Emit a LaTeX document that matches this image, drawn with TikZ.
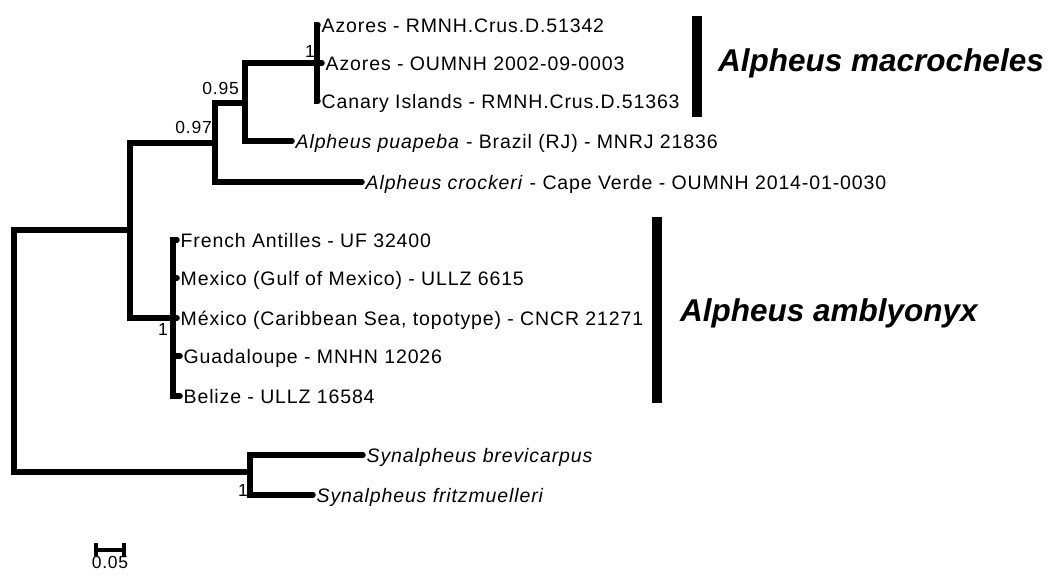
\documentclass[tikz,border=0pt]{standalone}
\usepackage{fontspec}
\setmainfont{Liberation Sans}[LetterSpace=4.5]
\newfontfamily\cladefont{Liberation Sans}
\usetikzlibrary{positioning}
\begin{document}
\begin{tikzpicture}[x=1pt,y=1pt,
 br/.style={line width=5.5pt,line cap=round,line join=miter},
 tip/.style={anchor=west,inner sep=3.5pt,text height=14pt,text depth=0pt,font=\fontsize{19.5}{21}\selectfont},
 pp/.style={inner sep=0pt,font=\fontsize{17.5}{18}\selectfont},
 clade/.style={line width=9.5pt},
 cname/.style={anchor=west,inner sep=0pt,font=\cladefont\fontsize{31.5}{34}\selectfont\bfseries\itshape}]
\useasboundingbox (0,0) rectangle (1048,-574);
% internal nodes
\coordinate (r) at (14,-297);
\coordinate (a) at (130,-230);
\coordinate (b) at (215,-143);
\coordinate (d) at (245,-103);
\coordinate (e) at (317,-63);
\coordinate (c) at (173,-318);
\coordinate (s) at (250,-472);
% tips
\node[tip] (t1) at (318,-25) {Azores - RMNH.Crus.D.51342};
\node[tip] (t2) at (322,-63) {Azores - OUMNH 2002-09-0003};
\node[tip] (t3) at (318,-101) {Canary Islands - RMNH.Crus.D.51363};
\node[tip] (t4) at (292,-141) {\textit{Alpheus puapeba} - Brazil (RJ) - MNRJ 21836};
\node[tip] (t5) at (362,-182) {\textit{Alpheus crockeri} - Cape Verde - OUMNH 2014-01-0030};
\node[tip] (t6) at (177,-240) {French Antilles - UF 32400};
\node[tip] (t7) at (177,-278) {Mexico (Gulf of Mexico) - ULLZ 6615};
\node[tip] (t8) at (177,-318) {México (Caribbean Sea, topotype) - CNCR 21271};
\node[tip] (t9) at (180,-356) {Guadaloupe - MNHN 12026};
\node[tip] (t10) at (180,-396) {Belize - ULLZ 16584};
\node[tip] (t11) at (363,-455) {\textit{Synalpheus brevicarpus}};
\node[tip] (t12) at (313,-495) {\textit{Synalpheus fritzmuelleri}};
% branches
\draw[br] (r) |- (a);\draw[br] (r) |- (s);
\draw[br] (a) |- (b);\draw[br] (a) |- (c);
\draw[br] (b) |- (d);\draw[br] (b) |- (t5.west);
\draw[br] (d) |- (e);\draw[br] (d) |- (t4.west);
\draw[br] (e) |- (t1.west);\draw[br] (e) |- (t2.west);\draw[br] (e) |- (t3.west);
\draw[br] (c) |- (t6.west);\draw[br] (c) |- (t7.west);\draw[br] (c) |- (t8.west);
\draw[br] (c) |- (t9.west);\draw[br] (c) |- (t10.west);
\draw[br] (s) |- (t11.west);\draw[br] (s) |- (t12.west);
% posterior probabilities
\node[pp,anchor=east] (p1) at (239,-88) {0.95};
\node[pp,anchor=east] (p2) at (212,-127) {0.97};
\node[pp] (p3) at (310,-51) {1};
\node[pp] (p4) at (163,-329) {1};
\node[pp] (p5) at (243,-490) {1};
% clades
\coordinate (m1) at (697,-16);\coordinate (m2) at (697,-117);
\draw[clade] (m1) -- (m2);
\node[cname] (mlab) at (718,-63) {Alpheus macrocheles};
\coordinate (n1) at (657,-217);\coordinate (n2) at (657,-403);
\draw[clade] (n1) -- (n2);
\node[cname] (nlab) at (680,-313) {Alpheus amblyonyx};
% scale bar
\coordinate (sb1) at (96,-550);\coordinate (sb2) at (124,-550);
\draw[line width=4pt] (sb1) -- (sb2);
\draw[line width=3.5pt] ([yshift=7pt]sb1) -- ([yshift=-6pt]sb1);
\draw[line width=3.5pt] ([yshift=7pt]sb2) -- ([yshift=-6pt]sb2);
\node[pp,below=6pt of sb1,xshift=14pt] (sbl) {0.05};
\end{tikzpicture}
\end{document}
